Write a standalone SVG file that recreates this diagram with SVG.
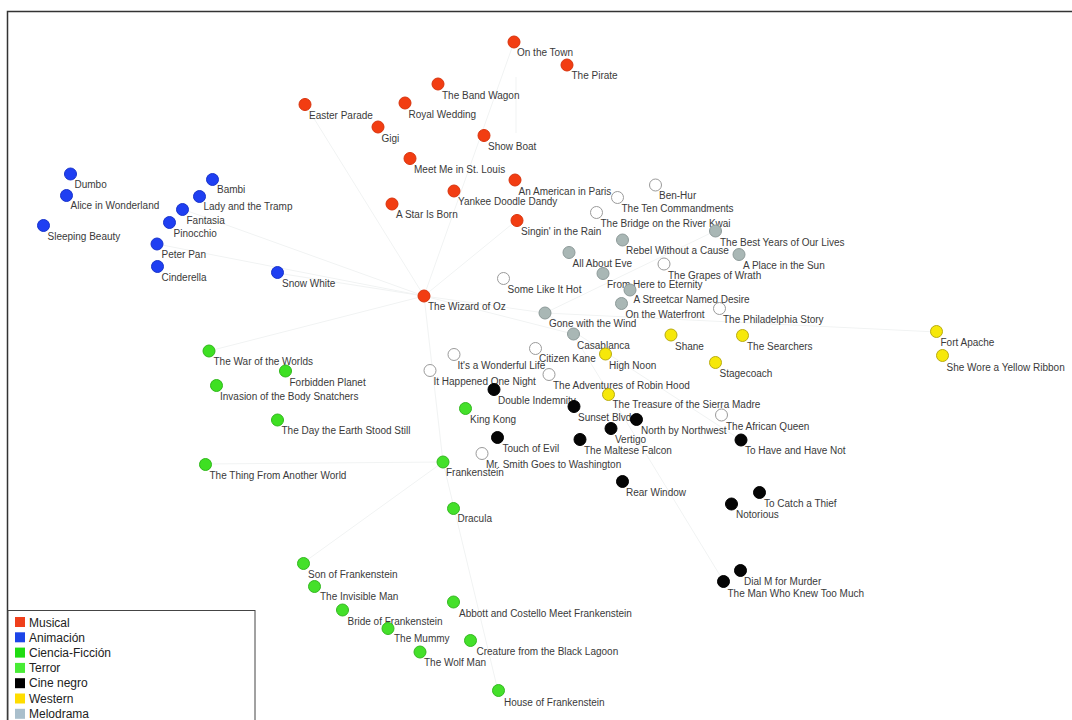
<svg xmlns="http://www.w3.org/2000/svg" width="1072" height="720" viewBox="0 0 1072 720">
<style>
.lb{font-family:"Liberation Sans",Arial,sans-serif;font-size:10px;fill:#3a3a3a;transform:translate(0px,2.5px)}
.lg{font-family:"Liberation Sans",Arial,sans-serif;font-size:12px;fill:#222}
circle{stroke-width:1}
.mus{fill:#f23d12;stroke:#d8330c}
.ani{fill:#1f3ff2;stroke:#1733cc}
.sci{fill:#3ee022;stroke:#2fb81a}
.ter{fill:#44e02a;stroke:#33b820}
.noir{fill:#050505;stroke:#000}
.west{fill:#f6e80a;stroke:#b9ac10}
.melo{fill:#a9b7b5;stroke:#8d9a99}
.none{fill:#fff;stroke:#9a9a9a}
.ed{stroke:#f1f3f3;stroke-width:1;fill:none}
</style>
<rect x="0" y="0" width="1072" height="720" fill="#fff"/>
<rect x="7.5" y="11.5" width="1100" height="760" fill="none" stroke="#333" stroke-width="1.5"/>
<g id="connectors">
<line class="ed" x1="424" y1="296" x2="514" y2="42"/>
<line class="ed" x1="424" y1="296" x2="305" y2="104"/>
<line class="ed" x1="424" y1="296" x2="277" y2="273"/>
<line class="ed" x1="424" y1="296" x2="157" y2="244"/>
<line class="ed" x1="424" y1="296" x2="182" y2="209"/>
<line class="ed" x1="424" y1="296" x2="545" y2="313"/>
<line class="ed" x1="424" y1="296" x2="573" y2="334"/>
<line class="ed" x1="424" y1="296" x2="443" y2="462"/>
<line class="ed" x1="424" y1="296" x2="209" y2="351"/>
<line class="ed" x1="424" y1="296" x2="517" y2="220"/>
<line class="ed" x1="516" y1="77" x2="516" y2="133"/>
<line class="ed" x1="545" y1="313" x2="741" y2="440"/>
<line class="ed" x1="545" y1="313" x2="937" y2="332"/>
<line class="ed" x1="573" y1="334" x2="724" y2="582"/>
<line class="ed" x1="443" y1="462" x2="498" y2="691"/>
<line class="ed" x1="443" y1="462" x2="303" y2="563"/>
<line class="ed" x1="443" y1="462" x2="205" y2="464"/>
<line class="ed" x1="545" y1="313" x2="715" y2="231"/>
</g>
<g id="n-on-the-town"><circle class="mus" cx="514" cy="42" r="6"/><text class="lb" x="517" y="53">On the Town</text></g>
<g id="n-the-pirate"><circle class="mus" cx="567" cy="65" r="6"/><text class="lb" x="571.5" y="76">The Pirate</text></g>
<g id="n-band-wagon"><circle class="mus" cx="438" cy="84" r="6"/><text class="lb" x="442" y="96">The Band Wagon</text></g>
<g id="n-royal-wedding"><circle class="mus" cx="405" cy="103" r="6"/><text class="lb" x="408.5" y="115">Royal Wedding</text></g>
<g id="n-easter-parade"><circle class="mus" cx="305" cy="104.5" r="6"/><text class="lb" x="309" y="116">Easter Parade</text></g>
<g id="n-gigi"><circle class="mus" cx="378" cy="127" r="6"/><text class="lb" x="381.5" y="139">Gigi</text></g>
<g id="n-show-boat"><circle class="mus" cx="484" cy="135.5" r="6"/><text class="lb" x="488" y="147">Show Boat</text></g>
<g id="n-meet-me"><circle class="mus" cx="410" cy="158.5" r="6"/><text class="lb" x="414" y="170">Meet Me in St. Louis</text></g>
<g id="n-american-paris"><circle class="mus" cx="515" cy="180" r="6"/><text class="lb" x="518.5" y="192">An American in Paris</text></g>
<g id="n-yankee-doodle"><circle class="mus" cx="454" cy="191" r="6"/><text class="lb" x="458" y="202.5">Yankee Doodle Dandy</text></g>
<g id="n-star-born"><circle class="mus" cx="392" cy="204" r="6"/><text class="lb" x="396" y="215.5">A Star Is Born</text></g>
<g id="n-singin-rain"><circle class="mus" cx="517" cy="220.5" r="6"/><text class="lb" x="521" y="232">Singin' in the Rain</text></g>
<g id="n-wizard-oz"><circle class="mus" cx="424" cy="296" r="6"/><text class="lb" x="428" y="307.5">The Wizard of Oz</text></g>
<g id="n-dumbo"><circle class="ani" cx="70.5" cy="174" r="6"/><text class="lb" x="74.5" y="185">Dumbo</text></g>
<g id="n-alice"><circle class="ani" cx="66.5" cy="195.5" r="6"/><text class="lb" x="70.5" y="206.5">Alice in Wonderland</text></g>
<g id="n-sleeping-beauty"><circle class="ani" cx="43.5" cy="225.5" r="6"/><text class="lb" x="47.5" y="237">Sleeping Beauty</text></g>
<g id="n-bambi"><circle class="ani" cx="212.5" cy="179.5" r="6"/><text class="lb" x="217" y="190.5">Bambi</text></g>
<g id="n-lady-tramp"><circle class="ani" cx="199.5" cy="196.5" r="6"/><text class="lb" x="203.5" y="207.5">Lady and the Tramp</text></g>
<g id="n-fantasia"><circle class="ani" cx="182.5" cy="209.5" r="6"/><text class="lb" x="186.5" y="221">Fantasia</text></g>
<g id="n-pinocchio"><circle class="ani" cx="169.5" cy="222.5" r="6"/><text class="lb" x="173.5" y="234">Pinocchio</text></g>
<g id="n-peter-pan"><circle class="ani" cx="157" cy="244" r="6"/><text class="lb" x="161.5" y="255.5">Peter Pan</text></g>
<g id="n-cinderella"><circle class="ani" cx="157.5" cy="266.5" r="6"/><text class="lb" x="161.5" y="278">Cinderella</text></g>
<g id="n-snow-white"><circle class="ani" cx="277.5" cy="272.5" r="6"/><text class="lb" x="282" y="284">Snow White</text></g>
<g id="n-ben-hur"><circle class="none" cx="655.5" cy="185" r="6"/><text class="lb" x="659" y="196">Ben-Hur</text></g>
<g id="n-ten-commandments"><circle class="none" cx="617.5" cy="197.5" r="6"/><text class="lb" x="621.5" y="209">The Ten Commandments</text></g>
<g id="n-river-kwai"><circle class="none" cx="596.5" cy="212.5" r="6"/><text class="lb" x="600.5" y="224.5">The Bridge on the River Kwai</text></g>
<g id="n-best-years"><circle class="melo" cx="715.5" cy="231" r="6"/><text class="lb" x="720" y="243">The Best Years of Our Lives</text></g>
<g id="n-rebel"><circle class="melo" cx="622.5" cy="240" r="6"/><text class="lb" x="626" y="251.5">Rebel Without a Cause</text></g>
<g id="n-all-about-eve"><circle class="melo" cx="569" cy="252.5" r="6"/><text class="lb" x="572.5" y="264">All About Eve</text></g>
<g id="n-place-sun"><circle class="melo" cx="739" cy="254.5" r="6"/><text class="lb" x="743" y="266">A Place in the Sun</text></g>
<g id="n-grapes-wrath"><circle class="none" cx="664" cy="264" r="6"/><text class="lb" x="668" y="276">The Grapes of Wrath</text></g>
<g id="n-from-here"><circle class="melo" cx="603" cy="273.5" r="6"/><text class="lb" x="607" y="285">From Here to Eternity</text></g>
<g id="n-some-like-hot"><circle class="none" cx="503.5" cy="278.5" r="6"/><text class="lb" x="507.5" y="290">Some Like It Hot</text></g>
<g id="n-streetcar"><circle class="melo" cx="630" cy="290" r="6"/><text class="lb" x="633.5" y="300.5">A Streetcar Named Desire</text></g>
<g id="n-waterfront"><circle class="melo" cx="621.5" cy="303.5" r="6"/><text class="lb" x="625.5" y="315">On the Waterfront</text></g>
<g id="n-philadelphia"><circle class="none" cx="719.5" cy="308.5" r="6"/><text class="lb" x="723" y="320">The Philadelphia Story</text></g>
<g id="n-gone-wind"><circle class="melo" cx="545" cy="313" r="6"/><text class="lb" x="549" y="324.5">Gone with the Wind</text></g>
<g id="n-casablanca"><circle class="melo" cx="573.5" cy="334" r="6"/><text class="lb" x="577" y="346">Casablanca</text></g>
<g id="n-shane"><circle class="west" cx="671" cy="335" r="6"/><text class="lb" x="675" y="347">Shane</text></g>
<g id="n-searchers"><circle class="west" cx="742.5" cy="335.5" r="6"/><text class="lb" x="747" y="347.5">The Searchers</text></g>
<g id="n-fort-apache"><circle class="west" cx="936.5" cy="331.5" r="6"/><text class="lb" x="940.5" y="343.5">Fort Apache</text></g>
<g id="n-yellow-ribbon"><circle class="west" cx="942.5" cy="355.5" r="6"/><text class="lb" x="946.5" y="368.5">She Wore a Yellow Ribbon</text></g>
<g id="n-citizen-kane"><circle class="none" cx="535.5" cy="348.5" r="6"/><text class="lb" x="539" y="359.5">Citizen Kane</text></g>
<g id="n-high-noon"><circle class="west" cx="605.5" cy="354" r="6"/><text class="lb" x="609" y="366">High Noon</text></g>
<g id="n-wonderful-life"><circle class="none" cx="454" cy="354.5" r="6"/><text class="lb" x="457.5" y="366">It's a Wonderful Life</text></g>
<g id="n-stagecoach"><circle class="west" cx="715.5" cy="362.5" r="6"/><text class="lb" x="719.5" y="374.5">Stagecoach</text></g>
<g id="n-happened-night"><circle class="none" cx="430" cy="370.5" r="6"/><text class="lb" x="433.5" y="382.5">It Happened One Night</text></g>
<g id="n-robin-hood"><circle class="none" cx="549" cy="374.5" r="6"/><text class="lb" x="553" y="386">The Adventures of Robin Hood</text></g>
<g id="n-double-indemnity"><circle class="noir" cx="494" cy="389.5" r="6"/><text class="lb" x="498" y="401">Double Indemnity</text></g>
<g id="n-sierra-madre"><circle class="west" cx="608.5" cy="394.5" r="6"/><text class="lb" x="612.5" y="405">The Treasure of the Sierra Madre</text></g>
<g id="n-sunset-blvd"><circle class="noir" cx="574" cy="406.5" r="6"/><text class="lb" x="578" y="418">Sunset Blvd.</text></g>
<g id="n-king-kong"><circle class="ter" cx="465.5" cy="408.5" r="6"/><text class="lb" x="470" y="420">King Kong</text></g>
<g id="n-african-queen"><circle class="none" cx="721.5" cy="415" r="6"/><text class="lb" x="726" y="427">The African Queen</text></g>
<g id="n-north-northwest"><circle class="noir" cx="636.5" cy="419.5" r="6"/><text class="lb" x="641" y="431">North by Northwest</text></g>
<g id="n-vertigo"><circle class="noir" cx="611" cy="428.5" r="6"/><text class="lb" x="615" y="440">Vertigo</text></g>
<g id="n-touch-evil"><circle class="noir" cx="497.5" cy="437.5" r="6"/><text class="lb" x="502.5" y="449">Touch of Evil</text></g>
<g id="n-maltese-falcon"><circle class="noir" cx="580" cy="439.5" r="6"/><text class="lb" x="584" y="451">The Maltese Falcon</text></g>
<g id="n-have-have-not"><circle class="noir" cx="741" cy="440" r="6"/><text class="lb" x="745" y="451">To Have and Have Not</text></g>
<g id="n-mr-smith"><circle class="none" cx="482" cy="453.5" r="6"/><text class="lb" x="486" y="465">Mr. Smith Goes to Washington</text></g>
<g id="n-frankenstein"><circle class="ter" cx="443" cy="462" r="6"/><text class="lb" x="446" y="473.5">Frankenstein</text></g>
<g id="n-rear-window"><circle class="noir" cx="622.5" cy="481.5" r="6"/><text class="lb" x="626" y="493.5">Rear Window</text></g>
<g id="n-catch-thief"><circle class="noir" cx="759.5" cy="492.5" r="6"/><text class="lb" x="764" y="504">To Catch a Thief</text></g>
<g id="n-notorious"><circle class="noir" cx="731.5" cy="504" r="6"/><text class="lb" x="736" y="515.5">Notorious</text></g>
<g id="n-dracula"><circle class="ter" cx="453.5" cy="508.5" r="6"/><text class="lb" x="457.5" y="519.5">Dracula</text></g>
<g id="n-dial-m"><circle class="noir" cx="740.5" cy="570.5" r="6"/><text class="lb" x="744" y="582">Dial M for Murder</text></g>
<g id="n-man-knew"><circle class="noir" cx="723.5" cy="581.5" r="6"/><text class="lb" x="727.5" y="594">The Man Who Knew Too Much</text></g>
<g id="n-war-worlds"><circle class="sci" cx="209" cy="351" r="6"/><text class="lb" x="213.5" y="362.5">The War of the Worlds</text></g>
<g id="n-forbidden-planet"><circle class="sci" cx="285.5" cy="371" r="6"/><text class="lb" x="289.5" y="383">Forbidden Planet</text></g>
<g id="n-body-snatchers"><circle class="sci" cx="216.5" cy="385.5" r="6"/><text class="lb" x="220" y="397">Invasion of the Body Snatchers</text></g>
<g id="n-earth-stood"><circle class="sci" cx="277.5" cy="420" r="6"/><text class="lb" x="281.5" y="431">The Day the Earth Stood Still</text></g>
<g id="n-thing"><circle class="sci" cx="205.5" cy="464.5" r="6"/><text class="lb" x="209.5" y="476.5">The Thing From Another World</text></g>
<g id="n-son-frank"><circle class="ter" cx="303.5" cy="563.5" r="6"/><text class="lb" x="308" y="575.5">Son of Frankenstein</text></g>
<g id="n-invisible-man"><circle class="ter" cx="314.5" cy="586.5" r="6"/><text class="lb" x="320" y="597.5">The Invisible Man</text></g>
<g id="n-abbott-costello"><circle class="ter" cx="453.5" cy="602" r="6"/><text class="lb" x="459" y="614">Abbott and Costello Meet Frankenstein</text></g>
<g id="n-bride-frank"><circle class="ter" cx="342.5" cy="610" r="6"/><text class="lb" x="347.5" y="622">Bride of Frankenstein</text></g>
<g id="n-mummy"><circle class="ter" cx="388" cy="628.5" r="6"/><text class="lb" x="394" y="639.5">The Mummy</text></g>
<g id="n-black-lagoon"><circle class="ter" cx="470.5" cy="640.5" r="6"/><text class="lb" x="476.5" y="652">Creature from the Black Lagoon</text></g>
<g id="n-wolf-man"><circle class="ter" cx="420" cy="652" r="6"/><text class="lb" x="424" y="663.5">The Wolf Man</text></g>
<g id="n-house-frank"><circle class="ter" cx="498.5" cy="690.5" r="6"/><text class="lb" x="504" y="703">House of Frankenstein</text></g>
<g id="legend">
<rect x="8" y="610.5" width="247" height="120" fill="#fff" stroke="#444" stroke-width="1"/>
<rect x="15" y="617" width="10" height="10" fill="#ef3f1b"/><text class="lg" x="29" y="626.5">Musical</text>
<rect x="15" y="632.3" width="10" height="10" fill="#1c45e8"/><text class="lg" x="29" y="641.8">Animación</text>
<rect x="15" y="647.6" width="10" height="10" fill="#1fdc12"/><text class="lg" x="29" y="657">Ciencia-Ficción</text>
<rect x="15" y="662.9" width="10" height="10" fill="#48ec35"/><text class="lg" x="29" y="672.2">Terror</text>
<rect x="15" y="678.2" width="10" height="10" fill="#000"/><text class="lg" x="29" y="687.4">Cine negro</text>
<rect x="15" y="693.5" width="10" height="10" fill="#ffdd00"/><text class="lg" x="29" y="702.6">Western</text>
<rect x="15" y="708.8" width="10" height="10" fill="#a9bfcc"/><text class="lg" x="29" y="717.8">Melodrama</text>
</g>
</svg>
